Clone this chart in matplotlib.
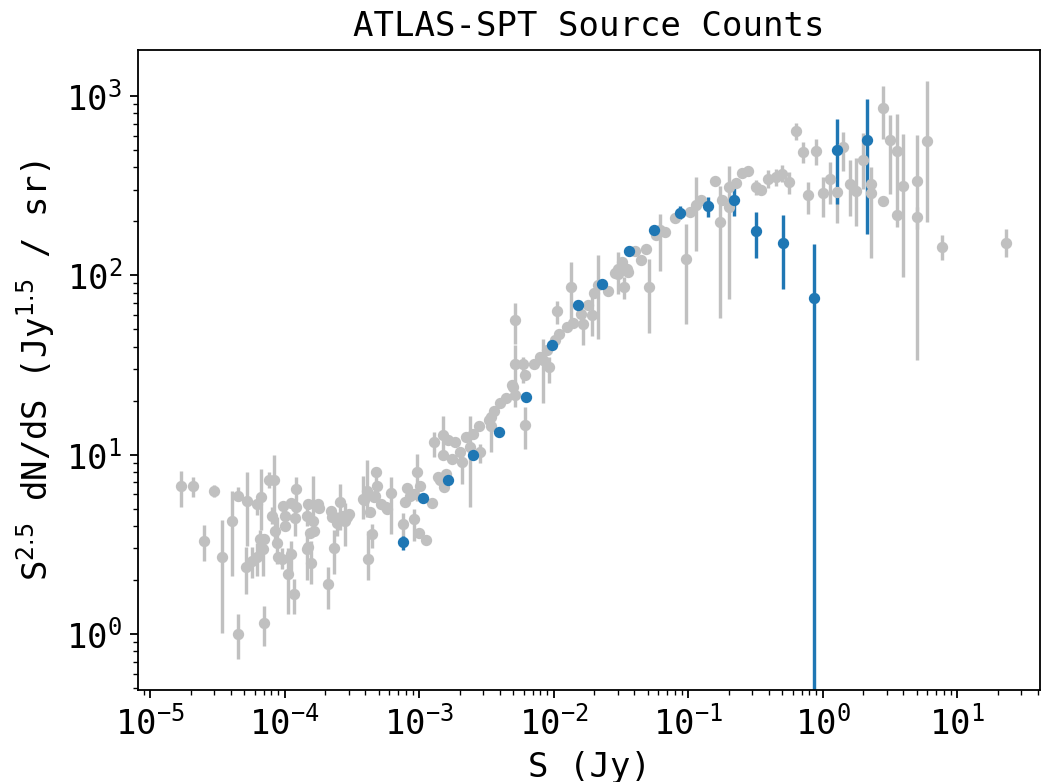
import numpy as np
import matplotlib
matplotlib.use('Agg')
import matplotlib.pyplot as plt

plt.rcParams['font.family'] = 'monospace'
plt.rcParams['font.size'] = 15

# literature counts: flux S (Jy), S^2.5 dN/dS, lower and upper end of error bar
lit_S = [1.7e-5, 2.1e-5, 3.0e-5, 2.5e-5, 3.4e-5, 4.5e-5, 4.1e-5, 4.5e-5, 5.3e-5, 6.2e-5,
         6.65e-5, 7.66e-5, 8.37e-5, 8.1e-5, 8.55e-5, 8.75e-5, 6.55e-5, 7.0e-5, 6.9e-5, 5.18e-5,
         5.7e-5, 6.27e-5, 7.0e-5, 9.5e-5, 9.8e-5, 1.0e-4, 1.0e-4, 1.11e-4, 1.11e-4, 1.07e-4,
         1.17e-4, 1.22e-4, 1.22e-4, 1.2e-4, 9.0e-5, 1.5e-4, 1.46e-4, 1.64e-4, 1.66e-4, 1.48e-4,
         1.57e-4, 1.77e-4, 1.82e-4, 1.5e-4, 1.55e-4, 2.12e-4, 2.35e-4, 2.25e-4, 2.2e-4, 2.45e-4,
         2.6e-4, 2.7e-4, 2.8e-4, 2.9e-4, 3.0e-4, 4.2e-4, 3.8e-4, 4.1e-4, 4.8e-4, 4.44e-4,
         4.9e-4, 5.2e-4, 5.8e-4, 6.2e-4, 5.7e-4, 4.7e-4, 3.9e-4, 4.3e-4, 4.6e-4, 7.8e-4,
         8.1e-4, 8.6e-4, 9.1e-4, 9.1e-4, 9.6e-4, 1.02e-3, 1.0e-3, 1.12e-3, 1.29e-3, 1.25e-3,
         1.38e-3, 7.6e-4, 1.52e-3, 1.65e-3, 1.86e-3, 1.5e-3, 1.6e-3, 1.42e-3, 1.53e-3, 1.77e-3,
         2.08e-3, 2.0e-3, 2.84e-3, 2.4e-3, 2.5e-3, 2.22e-3, 2.8e-3, 3.4e-3, 3.3e-3, 3.4e-3,
         3.6e-3, 4.0e-3, 4.4e-3, 5.17e-3, 5.0e-3, 4.9e-3, 6.1e-3, 5.17e-3, 5.17e-3, 5.9e-3,
         7.1e-3, 7.9e-3, 8.4e-3, 9.2e-3, 8.9e-3, 1.07e-2, 1.1e-2, 6.1e-3, 1.03e-2, 1.27e-2,
         1.4e-2, 1.34e-2, 1.65e-2, 1.59e-2, 1.81e-2, 1.92e-2, 2.0e-2, 2.15e-2, 2.56e-2, 2.86e-2,
         3.03e-2, 3.21e-2, 3.5e-2, 3.6e-2, 3.34e-2, 3.0e-2, 4.05e-2, 4.5e-2, 4.9e-2, 5.1e-2,
         5.8e-2, 6.2e-2, 6.8e-2, 8.0e-2, 9.6e-2, 0.104, 0.114, 0.124, 0.159, 0.173,
         0.178, 0.203, 0.203, 0.227, 0.25, 0.278, 0.32, 0.35, 0.39, 0.45,
         0.5, 0.56, 0.63, 0.71, 0.9, 0.78, 1.01, 1.14, 1.28, 1.41,
         1.6, 1.78, 2.0, 2.3, 2.3, 2.84, 2.84, 3.18, 3.56, 3.56,
         3.98, 5.0, 5.0, 6.0, 7.7, 23.0]
lit_y = [6.65, 6.7, 6.3, 3.3, 2.68, 1.0, 4.25, 5.9, 5.55, 5.3,
         5.83, 7.2, 7.2, 4.57, 3.77, 3.2, 3.39, 3.39, 2.98, 2.37,
         2.56, 2.68, 1.15, 2.62, 5.2, 4.57, 4.02, 5.4, 2.8, 2.16,
         1.67, 6.44, 5.1, 4.44, 2.68, 5.3, 4.57, 4.27, 3.77, 2.99,
         2.49, 5.3, 5.05, 3.05, 3.68, 1.9, 3.0, 4.47, 4.85, 4.14,
         5.45, 4.57, 4.27, 4.47, 4.67, 2.62, 5.65, 6.3, 7.97, 3.6,
         6.7, 5.3, 5.0, 6.1, 5.1, 5.9, 5.6, 4.8, 5.8, 5.45,
         6.5, 5.9, 4.38, 6.0, 7.97, 6.7, 3.68, 3.35, 11.7, 5.35,
         7.5, 4.1, 12.8, 12.0, 11.7, 9.9, 7.8, 7.2, 6.6, 9.4,
         9.06, 10.3, 10.3, 11.0, 13.0, 12.5, 14.5, 14.5, 15.6, 16.3,
         17.6, 19.3, 20.8, 21.4, 23.8, 24.3, 27.9, 32.0, 56.0, 32.0,
         32.0, 34.9, 33.8, 30.9, 38.1, 63.0, 46.8, 14.6, 43.4, 51.3,
         54.3, 85.8, 53.2, 61.0, 68.0, 60.4, 79.5, 87.7, 81.5, 102.7,
         108.7, 118.0, 108.7, 104.0, 85.8, 102.0, 137.0, 122.0, 140.5, 85.8,
         166.7, 179.5, 174.3, 209.0, 123.4, 224.0, 246.0, 261.0, 334.0, 198.7,
         261.0, 312.0, 241.0, 328.0, 373.0, 382.0, 309.0, 298.0, 342.0, 354.0,
         366.0, 331.0, 635.0, 486.0, 490.0, 280.0, 288.0, 342.0, 291.0, 516.0,
         322.0, 296.0, 440.0, 322.0, 288.0, 858.0, 259.0, 569.0, 494.0, 216.0,
         314.0, 336.0, 210.0, 560.0, 143.0, 151.6]
lit_lo = [5.1, 5.8, 5.8, 2.54, 1.02, 0.73, 2.1, 5.5, 3.1, 4.6,
          3.8, 6.5, 4.47, 4.1, 3.3, 2.45, 3.0, 3.39, 2.1, 1.67,
          2.05, 2.12, 0.86, 2.3, 5.2, 4.57, 4.02, 5.4, 2.2, 1.3,
          1.29, 5.2, 5.1, 3.5, 2.68, 5.3, 4.0, 3.56, 3.77, 2.0,
          1.9, 5.3, 5.05, 3.05, 3.68, 1.38, 2.16, 4.47, 4.85, 3.5,
          3.8, 4.57, 3.1, 4.47, 4.67, 2.0, 4.4, 4.5, 6.8, 3.0,
          6.7, 5.3, 5.0, 3.6, 5.1, 5.9, 5.6, 4.8, 5.8, 5.45,
          6.5, 5.9, 3.3, 6.0, 5.55, 6.7, 3.68, 3.35, 9.65, 5.35,
          7.5, 3.4, 9.9, 12.0, 11.7, 9.9, 7.8, 7.2, 6.6, 9.4,
          6.9, 10.3, 9.0, 5.1, 13.0, 12.5, 14.5, 10.3, 15.6, 16.3,
          16.5, 19.3, 20.8, 21.4, 23.8, 24.3, 27.9, 18.5, 41.5, 25.0,
          32.0, 34.9, 19.5, 25.0, 38.1, 53.6, 46.8, 10.7, 43.4, 51.3,
          54.3, 54.7, 40.8, 61.0, 68.0, 45.6, 79.5, 44.2, 81.5, 102.7,
          108.7, 118.0, 108.7, 104.0, 74.0, 79.0, 137.0, 122.0, 140.5, 47.6,
          166.7, 106.0, 174.3, 209.0, 53.2, 224.0, 137.0, 261.0, 334.0, 58.0,
          261.0, 73.6, 241.0, 328.0, 373.0, 382.0, 279.0, 298.0, 305.0, 314.0,
          330.0, 283.0, 565.0, 420.0, 411.0, 219.0, 210.0, 251.0, 195.0, 380.0,
          214.0, 189.0, 304.0, 322.0, 124.0, 572.0, 259.0, 284.0, 185.0, 216.0,
          98.0, 180.0, 33.5, 198.0, 121.0, 126.0]
lit_hi = [8.1, 7.5, 6.8, 4.06, 4.33, 1.29, 6.3, 6.6, 7.97, 5.65,
          8.3, 8.0, 9.9, 5.1, 4.3, 4.47, 3.8, 3.39, 3.4, 3.07,
          3.07, 3.2, 1.44, 3.0, 5.2, 4.57, 4.02, 5.4, 3.3, 3.0,
          2.03, 7.5, 5.1, 5.0, 2.68, 5.3, 5.1, 7.6, 3.77, 3.6,
          3.3, 5.3, 5.05, 3.05, 3.68, 2.37, 3.8, 4.47, 4.85, 4.8,
          6.9, 4.57, 5.4, 4.47, 4.67, 3.77, 7.6, 9.3, 8.5, 4.1,
          6.7, 5.3, 5.0, 7.5, 5.1, 5.9, 5.6, 4.8, 5.8, 5.45,
          6.5, 5.9, 5.0, 6.0, 10.1, 6.7, 3.68, 3.35, 13.3, 5.35,
          7.5, 4.7, 16.5, 12.0, 11.7, 9.9, 7.8, 7.2, 6.6, 9.4,
          10.3, 10.3, 11.5, 16.5, 13.0, 12.5, 14.5, 15.8, 15.6, 16.3,
          18.5, 19.3, 20.8, 21.4, 23.8, 24.3, 27.9, 41.0, 70.0, 35.0,
          32.0, 34.9, 44.0, 35.0, 38.1, 72.0, 46.8, 18.4, 43.4, 51.3,
          54.3, 118.0, 63.6, 61.0, 68.0, 75.6, 79.5, 129.0, 81.5, 102.7,
          108.7, 118.0, 108.7, 104.0, 97.6, 134.0, 137.0, 122.0, 140.5, 123.6,
          166.7, 219.0, 174.3, 209.0, 192.0, 224.0, 354.0, 261.0, 334.0, 316.0,
          261.0, 407.0, 241.0, 328.0, 373.0, 382.0, 339.0, 298.0, 385.0, 391.0,
          411.0, 374.0, 705.0, 555.0, 578.0, 332.0, 354.0, 425.0, 310.0, 631.0,
          439.0, 450.0, 620.0, 322.0, 402.0, 1134.0, 259.0, 782.0, 792.0, 216.0,
          612.0, 604.0, 240.0, 1213.0, 167.0, 181.0]

# ATLAS-SPT counts (blue)
spt_S = [7.6e-4, 1.07e-3, 1.63e-3, 2.52e-3, 3.96e-3, 6.2e-3, 9.7e-3, 1.51e-2, 2.31e-2, 3.64e-2,
         5.6e-2, 8.72e-2, 0.14, 0.221, 0.318, 0.506, 0.87, 1.28, 2.13]
spt_y = [3.25, 5.76, 7.25, 9.96, 13.3, 21.0, 41.1, 67.9, 88.9, 137.0,
         178.0, 223.0, 243.0, 261.0, 175.5, 151.0, 74.9, 497.0, 569.0]
spt_lo = [2.95, 5.6, 7.0, 9.7, 13.0, 20.5, 40.0, 66.0, 86.5, 133.0,
          167.0, 206.0, 210.0, 213.0, 125.0, 84.0, 0.0, 249.0, 169.0]
spt_hi = [3.5, 5.9, 7.5, 10.2, 13.6, 21.5, 42.2, 69.8, 91.3, 141.0,
          184.0, 242.0, 273.0, 307.0, 224.0, 217.0, 150.0, 738.0, 965.0]

fig = plt.figure(figsize=(1044 / 163, 782 / 163), dpi=163)
ax = fig.add_axes([138 / 1044, 92 / 782, 902 / 1044, 640 / 782])

lit_err = [np.array(lit_y) - np.array(lit_lo), np.array(lit_hi) - np.array(lit_y)]
spt_err = [np.array(spt_y) - np.array(spt_lo), np.array(spt_hi) - np.array(spt_y)]

ax.errorbar(lit_S, lit_y, yerr=lit_err, fmt='o', color='silver', ms=4, lw=1.5)
ax.errorbar(spt_S, spt_y, yerr=spt_err, fmt='o', color='#1f77b4', ms=4, lw=1.5)

ax.set_xscale('log')
ax.set_yscale('log')
ax.set_xlim(8.14e-6, 41.4)
ax.set_ylim(0.488, 1800)

ax.set_title('ATLAS-SPT Source Counts', fontsize=15)
ax.set_xlabel('S (Jy)')
ax.set_ylabel('S$^{2.5}$ dN/dS (Jy$^{1.5}$ / sr)')

fig.savefig('out.png', dpi=163)
